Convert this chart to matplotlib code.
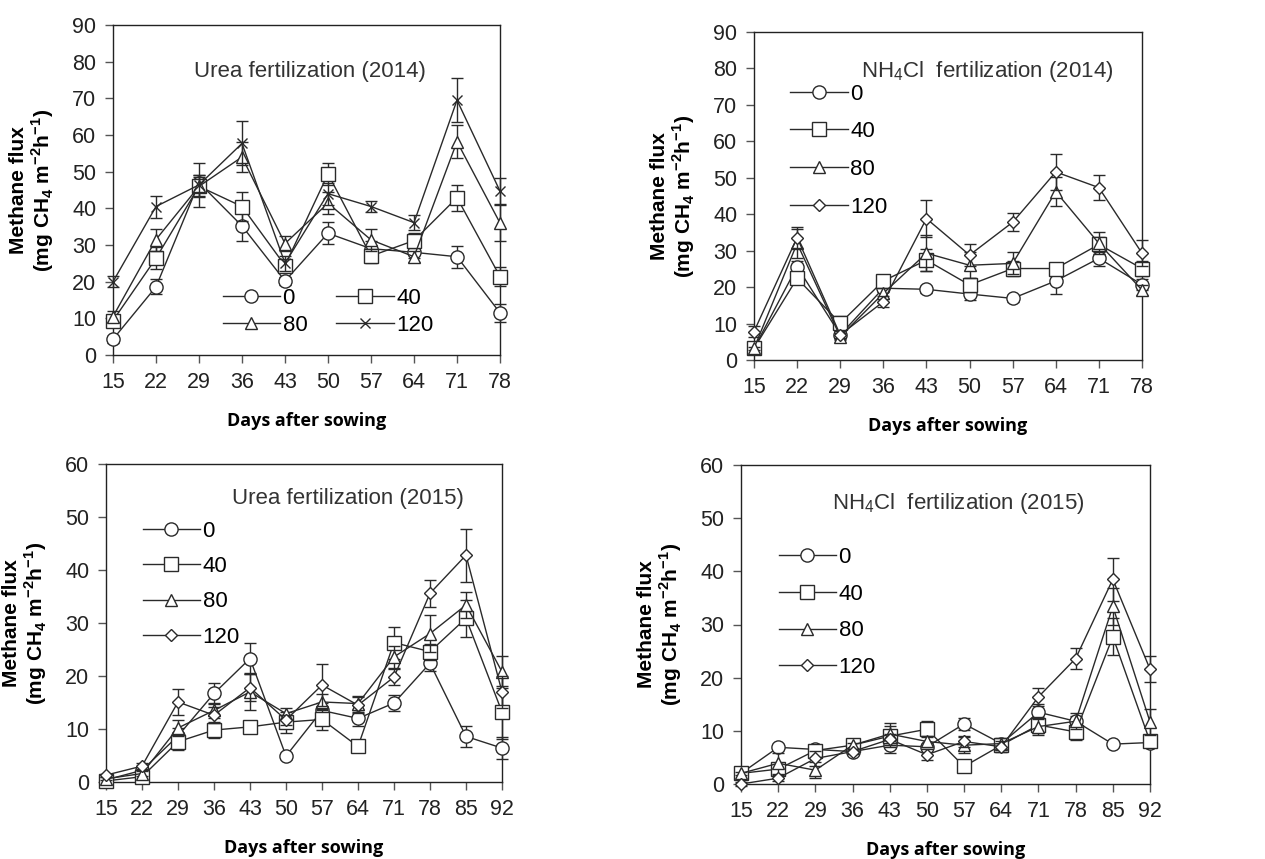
import numpy as np
import matplotlib
matplotlib.use("Agg")
import matplotlib.pyplot as plt
from matplotlib.lines import Line2D

plt.rcParams["font.family"] = ["Liberation Sans", "DejaVu Sans"]
plt.rcParams["mathtext.fontset"] = "custom"
plt.rcParams["mathtext.rm"] = "Liberation Sans"
plt.rcParams["mathtext.bf"] = "Liberation Sans:bold"

# ---- data ----
days_2014 = [15, 22, 29, 36, 43, 50, 57, 64, 71, 78]
days_2015 = [15, 22, 29, 36, 43, 50, 57, 64, 71, 78, 85, 92]
levels = ["0", "40", "80", "120"]

# Urea 2014
urea14 = [
    [4.3, 18.6, 47.0, 35.2, 20.2, 33.2, 29.0, 28.0, 26.8, 11.5],
    [9.4, 26.4, 46.0, 40.5, 24.4, 49.4, 27.0, 31.2, 42.9, 21.4],
    [10.5, 31.5, 46.0, 54.0, 30.4, 41.4, 31.4, 26.8, 58.2, 36.0],
    [20.0, 40.5, 46.4, 57.7, 25.0, 44.0, 40.5, 36.1, 69.5, 44.7],
]
urea14_err = [
    [1.0, 2.0, 2.0, 4.0, 1.0, 3.0, 2.0, 1.5, 3.0, 2.5],
    [1.5, 3.0, 2.5, 4.0, 1.5, 3.0, 2.0, 2.0, 3.5, 2.5],
    [1.5, 3.0, 3.0, 4.0, 2.0, 3.0, 3.0, 1.5, 4.5, 5.0],
    [1.5, 3.0, 6.0, 6.0, 2.0, 3.0, 1.5, 2.0, 6.0, 3.5],
]

# NH4Cl 2014
nh14 = [
    [3.2, 25.6, 6.9, 19.7, 19.4, 18.1, 16.9, 21.7, 27.9, 20.7],
    [3.2, 22.4, 10.1, 21.7, 27.4, 20.6, 25.1, 25.1, 31.7, 25.1],
    [3.2, 32.0, 6.4, 18.3, 29.3, 26.0, 26.5, 46.2, 32.0, 19.2],
    [7.8, 33.6, 6.9, 16.0, 38.8, 28.8, 37.8, 51.6, 47.3, 29.3],
]
nh14_err = [
    [0.5, 1.5, 1.0, 1.0, 1.0, 1.5, 1.0, 3.5, 2.0, 1.5],
    [0.5, 1.5, 2.0, 1.0, 3.0, 2.0, 2.0, 1.5, 2.0, 2.0],
    [0.5, 4.0, 1.0, 1.5, 5.0, 3.5, 3.0, 4.0, 3.0, 1.5],
    [1.5, 3.0, 1.0, 1.5, 5.0, 3.0, 2.5, 5.0, 3.5, 3.5],
]

# Urea 2015
urea15 = [
    [0.4, 2.2, 8.7, 16.7, 23.3, 4.9, 13.5, 12.0, 14.9, 22.4, 8.6, 6.4],
    [0.2, 1.0, 7.6, 9.8, 10.4, 11.3, 11.8, 6.7, 26.3, 24.6, 30.9, 13.2],
    [0.6, 1.6, 10.2, 13.5, 17.0, 12.9, 15.1, 14.8, 23.6, 28.0, 33.4, 20.8],
    [1.3, 3.0, 15.1, 12.6, 17.8, 11.7, 18.3, 14.5, 19.8, 35.6, 42.8, 17.0],
]
urea15_err = [
    [0.3, 0.5, 1.5, 2.0, 3.0, 0.5, 1.5, 1.5, 1.5, 1.5, 2.0, 2.0],
    [0.3, 0.5, 1.5, 1.5, 1.0, 2.0, 2.0, 1.0, 3.0, 1.5, 3.5, 5.0],
    [0.3, 0.5, 1.5, 1.5, 3.5, 1.0, 1.5, 1.5, 2.0, 3.5, 2.5, 3.0],
    [0.3, 0.5, 2.5, 1.5, 2.5, 1.0, 4.0, 1.5, 1.5, 2.5, 5.0, 3.0],
]

# NH4Cl 2015
nh15 = [
    [2.0, 6.9, 6.5, 6.1, 7.3, 7.0, 11.3, 7.6, 13.5, 11.8, 7.5, 7.8],
    [2.0, 2.8, 6.3, 7.3, 9.0, 10.3, 3.3, 7.3, 11.1, 9.8, 27.7, 8.0],
    [2.0, 3.9, 2.6, 7.3, 9.4, 8.0, 7.3, 7.6, 10.8, 11.8, 33.4, 11.7],
    [0.0, 1.1, 4.8, 6.1, 8.4, 5.5, 8.0, 7.0, 16.4, 23.6, 38.5, 21.6],
]
nh15_err = [
    [0.3, 0.5, 0.5, 0.5, 1.5, 0.5, 1.2, 0.8, 1.5, 1.0, 0.5, 0.8],
    [0.3, 0.8, 0.5, 0.5, 2.0, 1.5, 0.7, 1.0, 1.5, 1.5, 3.5, 1.0],
    [0.3, 2.0, 1.5, 0.5, 2.0, 1.0, 1.5, 1.0, 1.5, 1.5, 3.5, 2.5],
    [0.3, 0.5, 1.5, 0.5, 1.0, 1.0, 1.0, 1.0, 1.7, 2.0, 4.0, 2.5],
]

markers_a = ["o", "s", "^", "x"]
markers_b = ["o", "s", "^", "D"]
msizes = {"o": 9.5, "s": 9.5, "^": 9, "x": 6.5, "D": 6.5}
INK = "#2a2a2a"

fig = plt.figure(figsize=(12.65, 8.59), dpi=100)

# axes boxes in pixels: left, right, top, bottom
boxes = [
    (113, 500, 25, 355),
    (754, 1142, 32, 360),
    (106, 502, 464, 782),
    (741, 1150, 465, 784),
]
W, H = 1265, 859


def make_ax(box):
    l, r, t, b = box
    return fig.add_axes([l / W, 1 - b / H, (r - l) / W, (b - t) / H])


def panel(ax, days, vals, errs, markers, ymax, title, title_xy, leg_kw,
          order=(0, 1, 2, 3)):
    x = np.arange(len(days))
    handles = []
    for k, lab in enumerate(levels):
        m = markers[k]
        ax.errorbar(x, vals[k], yerr=errs[k], color=INK, lw=1.0,
                    marker=m, ms=msizes[m], mfc="white", mec=INK,
                    mew=1.0, capsize=4, elinewidth=1.0, capthick=1.0,
                    clip_on=False, zorder=3 + k)
        handles.append(Line2D([], [], color=INK, lw=1.0, marker=m,
                              ms=msizes[m], mfc="white", mec=INK, mew=1.0,
                              label=lab))
    ax.set_xlim(0, len(days) - 1)
    ax.set_ylim(0, ymax)
    ax.set_xticks(x)
    ax.set_xticklabels([str(d) for d in days])
    ax.set_yticks(np.arange(0, ymax + 1, 10))
    ax.tick_params(labelsize=15.5, length=6, width=1, direction="out",
                   color="#555555", pad=6, labelcolor="#222222")
    for s in ax.spines.values():
        s.set_color("#222222")
        s.set_linewidth(1.0)
    ax.text(title_xy[0], title_xy[1], title, transform=ax.transAxes,
            ha="center", va="center", fontsize=16, color="#333333")
    ax.set_ylabel("Methane flux\n(mg CH$_\\mathbf{4}$ m$^\\mathbf{-2}$h$^\\mathbf{-1}$)",
                  fontsize=15, fontweight="bold", labelpad=12,
                  linespacing=1.05)
    ax.set_xlabel("Days after sowing", fontsize=13, fontweight="bold",
                  family=["Open Sans", "DejaVu Sans"], labelpad=14)
    hs = [handles[i] for i in order]
    ax.legend(handles=hs, frameon=False, fontsize=16, handlelength=2.6,
              handletextpad=0.1, borderaxespad=0, **leg_kw)


ax1 = make_ax(boxes[0])
panel(ax1, days_2014, urea14, urea14_err, markers_a, 90,
      "Urea fertilization (2014)", (0.51, 0.86),
      dict(ncol=2, loc="lower left", bbox_to_anchor=(0.26, 0.03),
           columnspacing=1.3, labelspacing=0.3), order=(0, 2, 1, 3))

ax2 = make_ax(boxes[1])
panel(ax2, days_2014, nh14, nh14_err, markers_b, 90,
      "NH$_4$Cl  fertilization (2014)", (0.60, 0.88),
      dict(loc="upper left", bbox_to_anchor=(0.07, 0.87),
           labelspacing=0.75))

ax3 = make_ax(boxes[2])
panel(ax3, days_2015, urea15, urea15_err, markers_b, 60,
      "Urea fertilization (2015)", (0.61, 0.89),
      dict(loc="upper left", bbox_to_anchor=(0.07, 0.85),
           labelspacing=0.65))

ax4 = make_ax(boxes[3])
panel(ax4, days_2015, nh15, nh15_err, markers_b, 60,
      "NH$_4$Cl  fertilization (2015)", (0.53, 0.88),
      dict(loc="upper left", bbox_to_anchor=(0.07, 0.77),
           labelspacing=0.7))

fig.savefig("out.png", dpi=100)
